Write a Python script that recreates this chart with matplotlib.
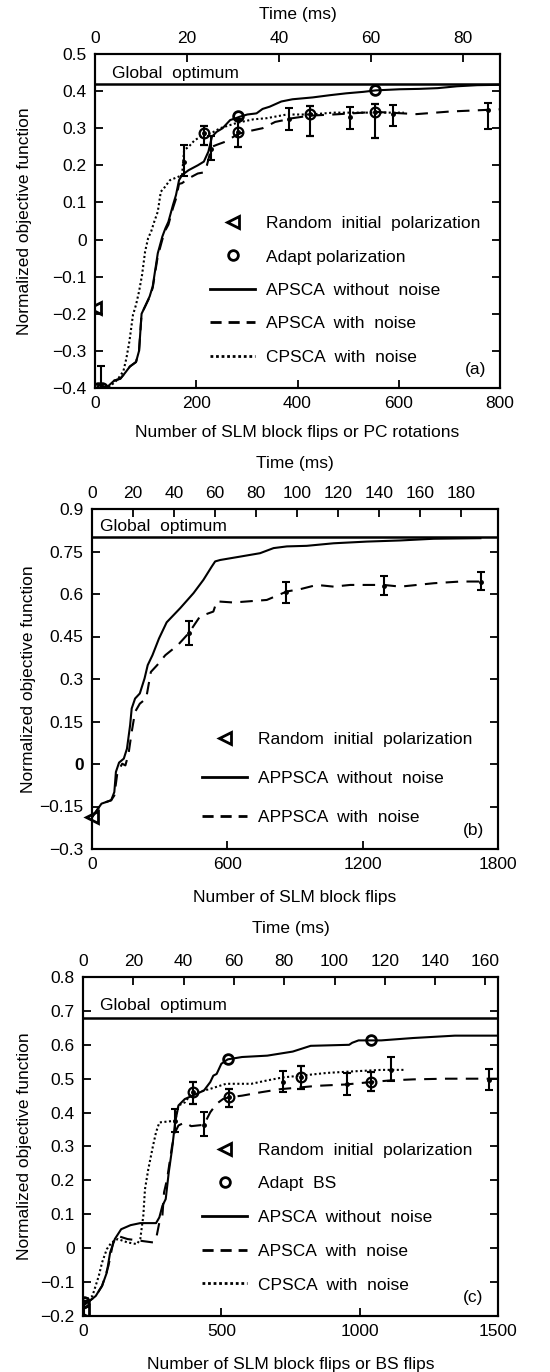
import numpy as np
import matplotlib.pyplot as plt
from matplotlib.lines import Line2D
from matplotlib.ticker import FuncFormatter

plt.rcParams['font.family'] = ['Liberation Sans', 'DejaVu Sans']
plt.rcParams['font.size'] = 12.5

ms_per_flip = 0.11

# ---------------- panel (a) ----------------
a_solid_x = [0, 13, 26, 38, 50, 59, 69, 81, 87, 92, 99, 108, 114, 124, 133, 139, 145, 154, 160, 166,
             172, 185, 203, 215, 224, 231, 240, 252, 267, 276, 286, 301, 319, 331, 345, 368, 390, 430,
             464, 496, 530, 555, 602, 640, 677, 715, 755, 800]
a_solid_y = [-0.40, -0.40, -0.395, -0.38, -0.375, -0.36, -0.342, -0.33, -0.30, -0.20, -0.18, -0.153,
             -0.126, -0.037, 0.008, 0.03, 0.048, 0.093, 0.12, 0.16, 0.174, 0.187, 0.20, 0.21, 0.237,
             0.277, 0.29, 0.30, 0.322, 0.326, 0.331, 0.337, 0.34, 0.352, 0.358, 0.372, 0.378, 0.383,
             0.389, 0.394, 0.398, 0.402, 0.405, 0.406, 0.408, 0.413, 0.416, 0.417]
a_dash_x = [0, 13, 26, 38, 50, 59, 69, 81, 87, 92, 99, 108, 114, 124, 133, 139, 145, 154, 160, 166,
            172, 185, 203, 215, 221, 228, 231, 240, 258, 283, 307, 331, 356, 374, 385, 425, 471, 554,
            635, 701, 800]
a_dash_y = [-0.40, -0.40, -0.395, -0.38, -0.375, -0.36, -0.342, -0.33, -0.30, -0.20, -0.18, -0.155,
            -0.13, -0.045, 0.0, 0.025, 0.04, 0.085, 0.11, 0.15, 0.152, 0.165, 0.178, 0.181, 0.20, 0.237,
            0.25, 0.255, 0.264, 0.285, 0.293, 0.30, 0.317, 0.322, 0.326, 0.334, 0.337, 0.344, 0.338,
            0.345, 0.351]
a_dot_x = [0, 13, 26, 44, 56, 62, 68, 75, 81, 87, 93, 99, 105, 111, 117, 124, 130, 136, 148, 166, 172,
           176, 185, 197, 209, 218, 234, 247, 282, 313, 339, 379, 425, 471, 537, 610]
a_dot_y = [-0.40, -0.40, -0.40, -0.378, -0.355, -0.32, -0.274, -0.203, -0.176, -0.14, -0.095, -0.032,
           0.004, 0.022, 0.048, 0.075, 0.129, 0.138, 0.16, 0.17, 0.174, 0.241, 0.25, 0.268, 0.277,
           0.283, 0.29, 0.30, 0.315, 0.324, 0.327, 0.337, 0.337, 0.342, 0.342, 0.342]
# error bars: x, centre, low, high
a_err_x = [12, 176, 230, 383, 503, 589, 776]
a_err_y = [-0.40, 0.21, 0.245, 0.325, 0.33, 0.337, 0.35]
a_err_lo = [-0.40, 0.17, 0.215, 0.295, 0.297, 0.306, 0.297]
a_err_hi = [-0.34, 0.255, 0.28, 0.355, 0.358, 0.363, 0.369]
a_cerr_x = [215, 283, 425, 554]
a_cerr_y = [0.286, 0.29, 0.337, 0.344]
a_cerr_lo = [0.254, 0.25, 0.28, 0.275]
a_cerr_hi = [0.306, 0.324, 0.36, 0.364]
a_circ_x = [5, 13, 283, 554]
a_circ_y = [-0.40, -0.40, 0.333, 0.403]
a_tri = (0, -0.185)
a_opt = 0.42

# ---------------- panel (b) ----------------
b_solid_x = [0, 21, 42, 85, 99, 106, 120, 141, 155, 169, 176, 191, 212, 233, 247, 268, 297, 331, 391,
             450, 494, 531, 546, 568, 657, 745, 805, 864, 952, 1071, 1219, 1367, 1515, 1722]
b_solid_y = [-0.188, -0.164, -0.14, -0.128, -0.099, -0.028, 0.005, 0.019, 0.054, 0.137, 0.196, 0.231,
             0.249, 0.302, 0.349, 0.384, 0.443, 0.50, 0.55, 0.603, 0.65, 0.697, 0.715, 0.72, 0.732,
             0.744, 0.762, 0.768, 0.77, 0.779, 0.785, 0.789, 0.795, 0.797]
b_dash_x = [0, 21, 42, 85, 99, 113, 134, 148, 162, 176, 191, 212, 240, 261, 289, 325, 381, 429, 479,
            538, 553, 627, 775, 864, 923, 997, 1071, 1145, 1293, 1367, 1515, 1633, 1722]
b_dash_y = [-0.188, -0.164, -0.14, -0.128, -0.111, -0.028, 0.001, -0.005, 0.036, 0.113, 0.184, 0.213,
            0.231, 0.325, 0.349, 0.384, 0.42, 0.462, 0.521, 0.538, 0.574, 0.57, 0.579, 0.609, 0.617,
            0.632, 0.626, 0.632, 0.632, 0.626, 0.638, 0.644, 0.644]
b_err_x = [429, 861, 1296, 1725]
b_err_y = [0.462, 0.607, 0.63, 0.644]
b_err_lo = [0.421, 0.57, 0.595, 0.615]
b_err_hi = [0.503, 0.644, 0.664, 0.676]
b_tri = (0, -0.188)
b_opt = 0.80

# ---------------- panel (c) ----------------
c_solid_x = [0, 23, 46, 69, 86, 98, 115, 138, 172, 207, 264, 276, 287, 299, 310, 322, 333, 345, 368,
             437, 460, 471, 483, 500, 523, 575, 666, 758, 823, 962, 973, 996, 1078, 1193, 1344, 1500]
c_solid_y = [-0.166, -0.156, -0.141, -0.111, -0.072, -0.013, 0.027, 0.056, 0.068, 0.074, 0.074, 0.091,
             0.125, 0.145, 0.224, 0.293, 0.371, 0.421, 0.44, 0.465, 0.49, 0.509, 0.514, 0.544, 0.557,
             0.564, 0.568, 0.58, 0.597, 0.60, 0.606, 0.613, 0.613, 0.62, 0.627, 0.627]
c_dash_x = [0, 23, 46, 69, 92, 109, 126, 161, 207, 253, 264, 276, 287, 293, 304, 322, 333, 345, 368,
            391, 414, 437, 460, 483, 506, 526, 575, 643, 712, 781, 846, 950, 1040, 1112, 1193, 1309,
            1425, 1500]
c_dash_y = [-0.17, -0.156, -0.141, -0.111, -0.052, 0.017, 0.036, 0.027, 0.022, 0.017, 0.027, 0.076,
            0.096, 0.165, 0.204, 0.302, 0.342, 0.362, 0.371, 0.36, 0.362, 0.364, 0.401, 0.426, 0.44,
            0.445, 0.45, 0.46, 0.469, 0.474, 0.479, 0.483, 0.49, 0.495, 0.498, 0.50, 0.50, 0.50]
c_dot_x = [0, 34, 57, 69, 86, 103, 126, 161, 195, 207, 218, 224, 236, 253, 264, 276, 333, 345, 368,
           391, 414, 460, 517, 609, 666, 724, 788, 881, 962, 1078, 1165]
c_dot_y = [-0.156, -0.141, -0.082, -0.042, -0.003, 0.017, 0.027, 0.017, 0.012, 0.027, 0.096, 0.174,
           0.233, 0.302, 0.342, 0.371, 0.376, 0.421, 0.43, 0.455, 0.46, 0.47, 0.485, 0.485, 0.495,
           0.504, 0.509, 0.517, 0.521, 0.526, 0.526]
c_err_x = [5, 333, 439, 724, 956, 1112, 1466]
c_err_y = [-0.16, 0.376, 0.362, 0.49, 0.483, 0.526, 0.497]
c_err_lo = [-0.20, 0.342, 0.332, 0.46, 0.452, 0.493, 0.466]
c_err_hi = [-0.155, 0.411, 0.401, 0.524, 0.518, 0.564, 0.53]
c_cerr_x = [396, 526, 787, 1040]
c_cerr_y = [0.46, 0.445, 0.504, 0.49]
c_cerr_lo = [0.426, 0.416, 0.47, 0.465]
c_cerr_hi = [0.49, 0.47, 0.537, 0.521]
c_circ_x = [5, 523, 1040]
c_circ_y = [-0.16, 0.557, 0.613]
c_tri = (0, -0.185)
c_opt = 0.68

DASH = (0, (6, 4))
DOT = (0, (1, 1.2))


def fmt_tick(v, pos):
    if abs(v) < 1e-9:
        return '0'
    return ('%g' % round(v, 3)).replace('-', '\u2212')


def errbars(ax, x, y, lo, hi, circle=False):
    y = np.array(y)
    yerr = [y - np.array(lo), np.array(hi) - y]
    if circle:
        ax.errorbar(x, y, yerr=yerr, fmt='o', ms=7, mfc='none', mec='k', mew=1.6,
                    ecolor='k', elinewidth=1.5, capsize=3, capthick=1.5, zorder=5)
        ax.plot(x, y, 'o', ms=2.5, color='k', zorder=6)
    else:
        ax.errorbar(x, y, yerr=yerr, fmt='o', ms=2.5, color='k', ecolor='k',
                    elinewidth=1.5, capsize=3, capthick=1.5, zorder=5)


def setup(ax, xmax, xticks, yticks, ylim, opt, opt_text_y, opt_text_x, top_ticks,
          top_pad, bot_pad, ylab_x, tag, xlabel):
    ax.set_xlim(0, xmax)
    ax.set_ylim(*ylim)
    ax.set_xticks(xticks)
    ax.set_yticks(yticks)
    ax.yaxis.set_major_formatter(FuncFormatter(fmt_tick))
    ax.tick_params(direction='in', length=6, width=1.3, top=True, right=True, pad=6)
    for t in ax.xaxis.get_major_ticks():
        t.tick2line.set_markersize(3)
    for sp in ax.spines.values():
        sp.set_linewidth(1.5)
    ax.axhline(opt, color='k', lw=1.8)
    ax.text(opt_text_x, opt_text_y, 'Global  optimum', transform=ax.get_yaxis_transform(),
            ha='left', va='center')
    ax.text(0.965, 0.055, tag, transform=ax.transAxes, ha='right', va='center')
    ax.set_xlabel(xlabel, labelpad=bot_pad)
    ax.set_ylabel('Normalized objective function')
    ax.yaxis.set_label_coords(ylab_x, 0.5)
    top = ax.twiny()
    top.set_xlim(0, xmax * ms_per_flip)
    top.set_xticks(top_ticks)
    top.tick_params(direction='in', length=6, width=1.3, pad=6)
    top.set_xlabel('Time (ms)', labelpad=top_pad)
    for sp in top.spines.values():
        sp.set_linewidth(1.5)


fig = plt.figure(figsize=(5.5, 13.72), dpi=100)
ax_a = fig.add_axes([95 / 550, 1 - 388 / 1372, 405 / 550, 334 / 1372])
ax_b = fig.add_axes([92 / 550, 1 - 849 / 1372, 406 / 550, 340 / 1372])
ax_c = fig.add_axes([83 / 550, 1 - 1316 / 1372, 415 / 550, 339 / 1372])

tri_kw = dict(marker='<', ms=8, mfc='none', mec='k', mew=2, ls='none')
circ_kw = dict(marker='o', ms=7, mfc='none', mec='k', mew=2, ls='none')

# ---- (a)
ax = ax_a
ax.plot(a_solid_x, a_solid_y, color='k', lw=1.5)
ax.plot(a_dash_x, a_dash_y, color='k', lw=1.5, ls=DASH)
ax.plot(a_dot_x, a_dot_y, color='k', lw=1.5, ls=DOT)
errbars(ax, a_err_x, a_err_y, a_err_lo, a_err_hi)
errbars(ax, a_cerr_x, a_cerr_y, a_cerr_lo, a_cerr_hi, circle=True)
ax.plot(a_circ_x, a_circ_y, zorder=6, **circ_kw)
ax.plot([a_tri[0]], [a_tri[1]], zorder=6, **tri_kw)
setup(ax, 800, [0, 200, 400, 600, 800], [-0.4, -0.3, -0.2, -0.1, 0, 0.1, 0.2, 0.3, 0.4, 0.5],
      (-0.4, 0.5), a_opt, 0.447, 0.042, [0, 20, 40, 60, 80], 8.3, 10,
      -0.156, '(a)', 'Number of SLM block flips or PC rotations')
h_tri = Line2D([], [], **tri_kw)
h_circ = Line2D([], [], **circ_kw)
h_solid = Line2D([], [], color='k', lw=2)
h_dash = Line2D([], [], color='k', lw=2, ls=(0, (4, 2.5)))
h_dot = Line2D([], [], color='k', lw=2, ls=(0, (1, 1)))
ax.legend([h_tri, h_circ, h_solid, h_dash, h_dot],
          ['Random  initial  polarization', 'Adapt polarization', 'APSCA  without  noise',
           'APSCA  with  noise', 'CPSCA  with  noise'],
          loc='upper left', bbox_to_anchor=(0.284, 0.515), frameon=False, borderpad=0,
          borderaxespad=0, handlelength=2.6, handletextpad=0.6, labelspacing=1.05)

# ---- (b)
ax = ax_b
ax.plot(b_solid_x, b_solid_y, color='k', lw=1.5)
ax.plot(b_dash_x, b_dash_y, color='k', lw=1.5, ls=DASH)
errbars(ax, b_err_x, b_err_y, b_err_lo, b_err_hi)
ax.plot([b_tri[0]], [b_tri[1]], zorder=6, clip_on=False, **tri_kw)
setup(ax, 1800, [0, 600, 1200, 1800], [-0.3, -0.15, 0, 0.15, 0.3, 0.45, 0.6, 0.75, 0.9],
      (-0.3, 0.9), b_opt, 0.84, 0.02, list(range(0, 181, 20)), 12.8, 12.5,
      -0.138, '(b)', 'Number of SLM block flips')
for lab in ax.get_yticklabels():
    if lab.get_text() == '0':
        lab.set_fontweight('bold')
ax.legend([h_tri, h_solid, h_dash],
          ['Random  initial  polarization', 'APPSCA  without  noise', 'APPSCA  with  noise'],
          loc='upper left', bbox_to_anchor=(0.271, 0.345), frameon=False, borderpad=0,
          borderaxespad=0, handlelength=2.6, handletextpad=0.6, labelspacing=1.38)

# ---- (c)
ax = ax_c
ax.plot(c_solid_x, c_solid_y, color='k', lw=1.5)
ax.plot(c_dash_x, c_dash_y, color='k', lw=1.5, ls=DASH)
ax.plot(c_dot_x, c_dot_y, color='k', lw=1.5, ls=DOT)
errbars(ax, c_err_x, c_err_y, c_err_lo, c_err_hi)
errbars(ax, c_cerr_x, c_cerr_y, c_cerr_lo, c_cerr_hi, circle=True)
ax.plot(c_circ_x, c_circ_y, zorder=6, **circ_kw)
ax.plot([c_tri[0]], [c_tri[1]], zorder=6, **tri_kw)
setup(ax, 1500, [0, 500, 1000, 1500], [-0.2, -0.1, 0, 0.1, 0.2, 0.3, 0.4, 0.5, 0.6, 0.7, 0.8],
      (-0.2, 0.8), c_opt, 0.717, 0.041, list(range(0, 161, 20)), 14.8, 12.5,
      -0.123, '(c)', 'Number of SLM block flips or BS flips')
ax.legend([h_tri, h_circ, h_solid, h_dash, h_dot],
          ['Random  initial  polarization', 'Adapt  BS', 'APSCA  without  noise',
           'APSCA  with  noise', 'CPSCA  with  noise'],
          loc='upper left', bbox_to_anchor=(0.287, 0.512), frameon=False, borderpad=0,
          borderaxespad=0, handlelength=2.6, handletextpad=0.6, labelspacing=1.07)

fig.savefig('out.png', dpi=100)
